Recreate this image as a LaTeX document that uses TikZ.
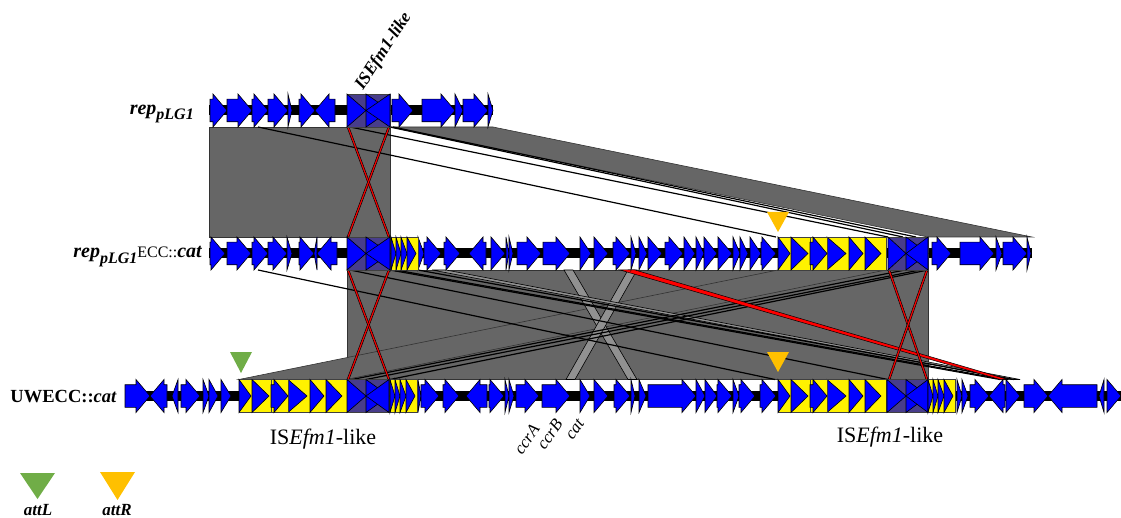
\documentclass[tikz,border=0pt]{standalone}
\usepackage{fontspec}
\setmainfont{Liberation Serif}
\usetikzlibrary{positioning}
\definecolor{geneblue}{RGB}{0,0,255}
\definecolor{isblue}{RGB}{72,61,139}
\definecolor{bandgray}{RGB}{102,102,102}
\definecolor{crossgray}{RGB}{145,145,145}
\definecolor{attgreen}{RGB}{112,173,71}
\definecolor{attorange}{RGB}{255,192,0}
\tikzstyle{gene}=[fill=geneblue,draw=black,line width=0.6pt]
\tikzstyle{isel}=[fill=isblue,draw=black!75,line width=0.6pt]
\tikzstyle{ycell}=[fill=yellow,draw=black!75,line width=0.6pt]
\tikzstyle{band}=[fill=bandgray,draw=black!80,line width=0.6pt]
\tikzstyle{hitline}=[draw=black,line width=1.2pt]
\tikzstyle{redhit}=[fill=red,draw=black,line width=0.5pt]
\tikzstyle{crossband}=[fill=crossgray,draw=black,line width=0.6pt]
\tikzstyle{backbone}=[fill=black]
\tikzstyle{tracklabel}=[anchor=base east,inner sep=0pt]
\tikzstyle{genelabel}=[anchor=east,rotate=55,inner sep=0pt,font=\fontsize{17}{17}\selectfont\itshape]
% gene arrows: start, end, track centre
\newcommand\gR[3]{\pgfmathsetmacro\hx{max(#1,#2-14)}%
  \filldraw[gene] (#1,#3-11.3) -- (\hx,#3-11.3) -- (\hx,#3-16.5) -- (#2,#3)
    -- (\hx,#3+16.5) -- (\hx,#3+11.3) -- (#1,#3+11.3) -- cycle;}
\newcommand\gL[3]{\pgfmathsetmacro\hx{min(#2,#1+14)}%
  \filldraw[gene] (#2,#3-11.3) -- (\hx,#3-11.3) -- (\hx,#3-16.5) -- (#1,#3)
    -- (\hx,#3+16.5) -- (\hx,#3+11.3) -- (#2,#3+11.3) -- cycle;}
\newcommand\gT[3]{\filldraw[gene] (#1,#3-16.5) -- (#2,#3) -- (#1,#3+16.5) -- cycle;}
% IS element: left, middle, right, track centre
\newcommand\isbox[4]{%
  \filldraw[isel] (#1,#4-16.5) rectangle (#2,#4+16.5);
  \filldraw[isel] (#2,#4-16.5) rectangle (#3,#4+16.5);
  \gT{#1}{#2}{#4}
  \gT{#2}{#3}{#4}
  \filldraw[gene] (#3,#4-16.5) -- (#2,#4) -- (#3,#4+16.5) -- cycle;}
\newcommand\yblock[2]{%
  \foreach \p/\q/\r in {0/13/12,13/32/30,49/71/68,71/87/85,87/108/103}{%
    \filldraw[ycell] (#1+\p,#2-16.5) rectangle (#1+\q,#2+16.5);
    \gT{#1+\p}{#1+\r}{#2}}
  \filldraw[ycell] (#1+32,#2-16.5) rectangle (#1+49,#2+16.5);
  \gR{#1+32}{#1+49}{#2}}
\newcommand\syblock[2]{%
  \foreach \p/\q/\r in {0/5/5,5/10/10,10/16/16,16/27/25}{%
    \filldraw[ycell] (#1+\p,#2-16.5) rectangle (#1+\q,#2+16.5);
    \gT{#1+\p}{#1+\r}{#2}}}
\def\yA{110.5}
\def\yB{253.5}
\def\yC{396}

\begin{document}
\begin{tikzpicture}[x=1pt,y=-1pt]
\useasboundingbox (0,0) rectangle (1121,518);
% matches rep_pLG1 / rep_pLG1ECC::cat
\filldraw[band] (209,127) rectangle (390,237);
\filldraw[band] (390,127) -- (493,127) -- (1032,237) -- (928,237) -- cycle;
\draw[hitline] (258,127) -- (776,237);
\foreach \a/\b in {350/888,390/903,393/916} {\draw[hitline] (\a,127) -- (\b,237);}
\filldraw[redhit] (347,127) -- (349,127) -- (390,237) -- (388,237) -- cycle;
\filldraw[redhit] (388,127) -- (390,127) -- (349,237) -- (347,237) -- cycle;
% matches rep_pLG1ECC::cat / UWECC::cat
\filldraw[band] (347,270) rectangle (928,379.5);
\filldraw[band] (778,270) -- (886,270) -- (346,379.5) -- (239,379.5) -- cycle;
\filldraw[crossband] (564,270) -- (573,270) -- (637,379.5) -- (628,379.5) -- cycle;
\filldraw[crossband] (628,270) -- (637,270) -- (575,379.5) -- (566,379.5) -- cycle;
\filldraw[crossband] (432,270) -- (446,270) -- (1020,379.5) -- (1011,379.5) -- cycle;
\foreach \a/\b in {258/775,350/888,390/1000,396/1005,418/1014,905/352,920/366,928/390}
  {\draw[hitline] (\a,270) -- (\b,379.5);}
\filldraw[redhit] (620,270) -- (635,270) -- (1008,379.5) -- (1000,379.5) -- cycle;
\foreach \a/\b in {347/390,888/928} {
  \filldraw[redhit] (\a,270) -- (\a+2,270) -- (\b,379.5) -- (\b-2,379.5) -- cycle;
  \filldraw[redhit] (\b-2,270) -- (\b,270) -- (\a+2,379.5) -- (\a,379.5) -- cycle;}
% track rep_pLG1
\fill[backbone] (209,\yA-5) rectangle (493,\yA+5);
\foreach \a/\b in {210/227,227/252,252/268,268/288,288/292,299/315,392/413,422/455,455/463,463/488,488/493}
  {\gR{\a}{\b}{\yA}}
\gL{315}{335}{\yA}
\isbox{347}{366}{390}{\yA}
% track rep_pLG1ECC::cat
\fill[backbone] (209,\yB-5) rectangle (1032,\yB+5);
\foreach \a/\b in {210/225,227/251,252/268,268/287,287/292,299/314,418/424,424/441,444/460,491/505,506/509,509/513,517/541,543/570,580/591,594/608,613/630,631/636,639/647,648/662,665/683,684/695,696/704,704/717,718/732,733/740,740/748,750/761,761/776,932/951,960/994,996/1002,1003/1027,1027/1031}
  {\gR{\a}{\b}{\yB}}
\foreach \a/\b in {314/317,317/337,469/486} {\gL{\a}{\b}{\yB}}
\isbox{347}{366}{390}{\yB}
\isbox{888}{906}{928}{\yB}
\syblock{391}{\yB}
\yblock{778}{\yB}
% track UWECC::cat
\fill[backbone] (125,\yC-5) rectangle (1121,\yC+5);
\foreach \a/\b in {125/150,181/200,203/209,209/218,221/231,418/421,421/439,443/459,489/504,505/509,509/514,516/539,542/570,580/590,594/608,614/630,631/635,639/646,648/696,696/705,705/717,717/732,733/739,739/755,760/776,957/962,962/968,970/989,1006/1020,1024/1048,1107/1121}
  {\gR{\a}{\b}{\yC}}
\foreach \a/\b in {150/167,172/178,466/487,989/1005,1048/1097,1099/1104} {\gL{\a}{\b}{\yC}}
\yblock{239}{\yC}
\isbox{347}{366}{389}{\yC}
\syblock{390}{\yC}
\yblock{778}{\yC}
\isbox{887}{906}{928}{\yC}
\syblock{928}{\yC}
% att sites
\fill[attorange] (767,212) -- (789,212) -- (778,232) -- cycle;
\fill[attorange] (767,352) -- (789,352) -- (778,372) -- cycle;
\fill[attgreen] (230,352) -- (252,352) -- (241,373) -- cycle;
\fill[attgreen] (20,473) -- (55,473) -- (37.5,499) -- cycle;
\fill[attorange] (100,472) -- (135,472) -- (117.5,500) -- cycle;
% labels
\node[tracklabel] (lab1) at (194,115) {\fontsize{20}{20}\selectfont\bfseries\itshape rep\raisebox{-5pt}{\fontsize{16}{16}\selectfont pLG1}};
\node[tracklabel] (lab2) at (202,258) {\fontsize{20}{20}\selectfont\bfseries\itshape rep\raisebox{-6pt}{\fontsize{16}{16}\selectfont pLG1}{\mdseries\upshape\fontsize{16}{16}\selectfont ECC::}cat};
\node[tracklabel] (lab3) at (117,402) {\fontsize{18.5}{18.5}\selectfont\bfseries UWECC::\textit{cat}};
\node[anchor=base west,rotate=57,inner sep=0pt] (istop) at (363,91) {\fontsize{17.5}{17.5}\selectfont\bfseries\itshape ISEfm1-like};
\node (isleft) at (323,439) {\fontsize{22}{22}\selectfont IS\textit{Efm1}-like};
\node (isright) at (890,437) {\fontsize{22}{22}\selectfont IS\textit{Efm1}-like};
\node[genelabel] (ccra) at (536,426) {ccrA};
\node[genelabel] (ccrb) at (559,421) {ccrB};
\node[genelabel] (catg) at (581,421) {cat};
\node (attl) at (38,510) {\fontsize{17}{17}\selectfont\bfseries\itshape attL};
\node (attr) at (117,510) {\fontsize{17}{17}\selectfont\bfseries\itshape attR};
\end{tikzpicture}
\end{document}
